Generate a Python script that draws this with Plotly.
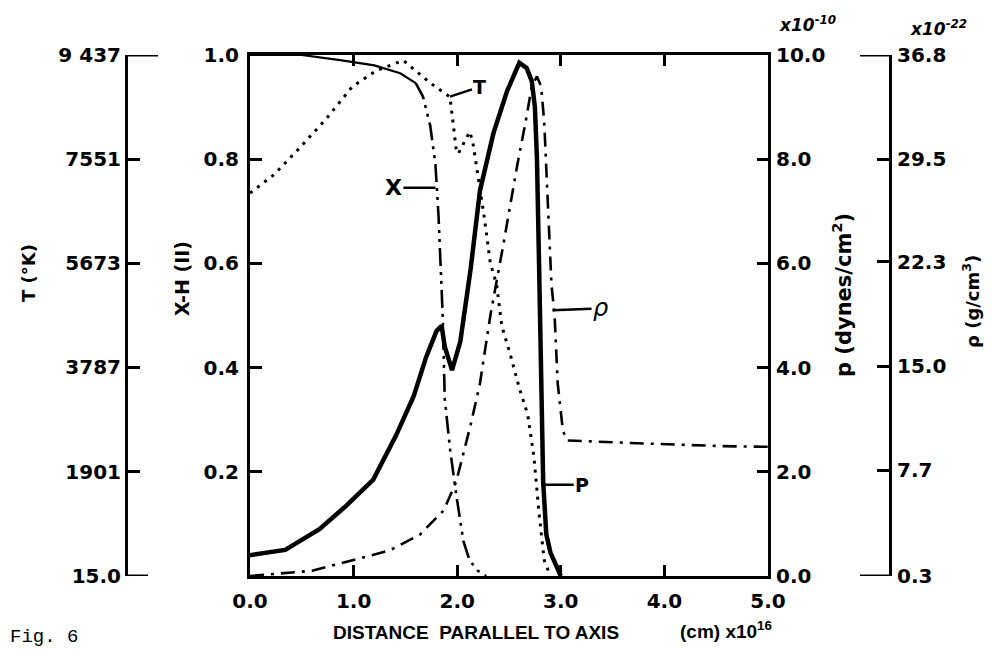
import plotly.graph_objects as go

# ---------------- data (distance in units of 1e16 cm) ----------------
# Ionization fraction X-H (0..1)
x_X = [0.0, 0.5, 0.87, 1.2, 1.45, 1.6, 1.67, 1.74, 1.79, 1.82, 1.84, 1.86, 1.88,
       1.93, 1.99, 2.06, 2.12, 2.2, 2.28]
y_X = [1.0, 1.0, 0.99, 0.98, 0.965, 0.946, 0.92, 0.864, 0.79, 0.69, 0.60, 0.50, 0.34,
       0.245, 0.157, 0.067, 0.03, 0.01, 0.0]

# Temperature T (K)
x_T = [0.0, 0.23, 0.47, 0.73, 0.99, 1.22, 1.48, 1.74, 1.93, 1.96, 1.99, 2.01, 2.06,
       2.12, 2.15, 2.18, 2.21, 2.26, 2.32, 2.38, 2.43, 2.52, 2.60, 2.68, 2.74, 2.79,
       2.84, 2.9]
y_T = [6940, 7270, 7740, 8270, 8870, 9155, 9340, 8930, 8680, 8210, 7740, 7650, 7820,
       8050, 7870, 7510, 7150, 6520, 5670, 5290, 4540, 3970, 3410, 2940, 2180, 1150,
       300, 15]

# Pressure p (x1e-10 dynes/cm^2)
x_p = [0.0, 0.34, 0.67, 0.93, 1.19, 1.41, 1.58, 1.70, 1.80, 1.85, 1.88, 1.95, 2.03,
       2.13, 2.22, 2.35, 2.48, 2.60, 2.67, 2.72, 2.75, 2.77, 2.79, 2.81, 2.83, 2.86,
       2.9, 3.0]
y_p = [0.4, 0.5, 0.9, 1.35, 1.85, 2.7, 3.45, 4.2, 4.7, 4.8, 4.4, 3.95, 4.5,
       5.9, 7.4, 8.5, 9.3, 9.85, 9.75, 9.5, 9.0, 8.0, 6.0, 4.0, 1.8, 0.8,
       0.45, 0.0]

# Density rho (x1e-22 g/cm^3)
x_rho = [0.0, 0.6, 0.99, 1.35, 1.64, 1.87, 1.99, 2.13, 2.22, 2.32, 2.45, 2.58, 2.66,
         2.72, 2.77, 2.81, 2.84, 2.86, 2.89, 2.91, 2.94, 2.97, 3.02, 3.06, 3.74, 4.55, 5.0]
y_rho = [0.3, 0.67, 1.4, 2.1, 3.2, 4.9, 6.9, 10.9, 13.8, 18.55, 23.7, 29.1, 32.1,
         34.6, 35.3, 34.6, 32.1, 28.8, 24.4, 20.7, 18.55, 13.8, 10.5, 9.8, 9.6, 9.4, 9.35]

# tick labels
x_ticks = [0, 1, 2, 3, 4, 5]
x_ticktext = ["0.0", "1.0", "2.0", "3.0", "4.0", "5.0"]
X_ticks = [0.2, 0.4, 0.6, 0.8, 1.0]
X_ticktext = ["0.2", "0.4", "0.6", "0.8", "1.0"]
T_ticks = [15, 1901, 3787, 5673, 7551, 9437]
T_ticktext = ["15.0", "1901", "3787", "5673", "7551", "9 437"]
p_ticks = [0, 2, 4, 6, 8, 10]
p_ticktext = ["0.0", "2.0", "4.0", "6.0", "8.0", "10.0"]
rho_ticks = [0.3, 7.7, 15.0, 22.3, 29.5, 36.8]
rho_ticktext = ["0.3", "7.7", "15.0", "22.3", "29.5", "36.8"]

# ---------------- figure ----------------
OFF = 8                      # page body margin of the browser
W, H = 992 - OFF, 666 - OFF
ML, MR, MT, MB = 30, 30, 30, 30
PW, PH = W - ML - MR, H - MT - MB


def fx(px):
    return (px - OFF - ML) / PW


def fy(py):
    return 1 - (py - OFF - MT) / PH


BLK = "black"
tickfont = dict(family="DejaVu Sans", size=20, color=BLK, weight="bold")

fig = go.Figure()

# X: solid upper part, dash-dot-dot lower part
fig.add_trace(go.Scatter(x=x_X[:6], y=y_X[:6], mode="lines", yaxis="y",
                         line=dict(color=BLK, width=2.2), showlegend=False))
fig.add_trace(go.Scatter(x=x_X[5:], y=y_X[5:], mode="lines", yaxis="y",
                         line=dict(color=BLK, width=2.6,
                                   dash="18px,6px,3px,6px,3px,6px"),
                         showlegend=False))
# T: dotted
fig.add_trace(go.Scatter(x=x_T, y=y_T, mode="lines", yaxis="y2",
                         line=dict(color=BLK, width=3, dash="3px,6px"),
                         showlegend=False))
# p: thick solid
fig.add_trace(go.Scatter(x=x_p, y=y_p, mode="lines", yaxis="y3",
                         line=dict(color=BLK, width=4.5), showlegend=False))
# rho: dash-dot
fig.add_trace(go.Scatter(x=x_rho, y=y_rho, mode="lines", yaxis="y4",
                         line=dict(color=BLK, width=2.6, dash="14px,7px,3px,7px"),
                         showlegend=False))

ax_common = dict(showgrid=False, zeroline=False, showline=True, linecolor=BLK,
                 linewidth=3, ticks="inside", tickwidth=2.5, tickcolor=BLK,
                 tickfont=tickfont, automargin=False)

fig.update_layout(
    width=W, height=H, autosize=False,
    margin=dict(l=ML, r=MR, t=MT, b=MB, pad=0, autoexpand=False),
    paper_bgcolor="white", plot_bgcolor="white",
    xaxis=dict(domain=[fx(250), fx(768)], range=[0, 5], mirror="ticks", ticklen=11,
               tickvals=x_ticks, ticktext=x_ticktext, ticklabelstandoff=5, **ax_common),
    yaxis=dict(domain=[fy(576), fy(55)], range=[0, 1], ticklen=12,
               tickvals=X_ticks, ticktext=X_ticktext, ticklabelstandoff=4, **ax_common),
    yaxis2=dict(overlaying="y", anchor="free", position=fx(126), side="left",
                range=[15, 9437], ticklen=12, tickvals=T_ticks, ticktext=T_ticktext,
                ticklabelstandoff=0, **ax_common),
    yaxis3=dict(overlaying="y", anchor="x", side="right", range=[0, 10], ticklen=11,
                tickvals=p_ticks, ticktext=p_ticktext, ticklabelstandoff=1, **ax_common),
    yaxis4=dict(overlaying="y", anchor="free", position=fx(890), side="right",
                range=[0.3, 36.8], ticklen=12, tickvals=rho_ticks, ticktext=rho_ticktext,
                ticklabelstandoff=1, **ax_common),
)

# long bracket ends on the T and rho axes
for yref, yv, xa, xb in [("y2", T_ticks[-1], 126, 158), ("y2", T_ticks[0], 126, 148),
                         ("y4", rho_ticks[-1], 860, 890), ("y4", rho_ticks[0], 860, 890)]:
    fig.add_shape(type="line", xref="paper", yref=yref, x0=fx(xa), x1=fx(xb),
                  y0=yv, y1=yv, line=dict(color=BLK, width=3))


def note(text, px, py, font, angle=0):
    fig.add_annotation(text=text, xref="paper", yref="paper", x=fx(px), y=fy(py),
                       xanchor="center", yanchor="middle", textangle=angle,
                       showarrow=False, font=font)


def lab(size):
    return dict(family="DejaVu Sans", size=size, color=BLK, weight="bold")


note("T (°K)", 28, 273, lab(18), -90)
note("X-H (II)", 182, 279, lab(19), -90)
note("p (dynes/cm<sup>2</sup>)", 842, 295, lab(21), -90)
note("ρ (g/cm<sup>3</sup>)", 971, 302, lab(18), -90)

expf = dict(family="DejaVu Sans", size=17, color=BLK, weight="bold", style="italic")
note("x10<sup>-10</sup>", 807, 24, expf)
note("x10<sup>-22</sup>", 938, 28, expf)

note("DISTANCE  PARALLEL TO AXIS", 476, 632,
     dict(family="Liberation Sans", size=19, color=BLK, weight="bold"))
note("(cm) x10<sup>16</sup>", 726, 630,
     dict(family="Liberation Sans", size=19, color=BLK, weight="bold"))
note("Fig. 6", 44, 637, dict(family="Liberation Mono", size=19, color=BLK))

# curve labels with leader lines
curvef = dict(family="DejaVu Sans", size=19, color=BLK, weight="bold")


def label(text, x, y, ax, ay, font):
    fig.add_annotation(text=text, x=x, y=y, xref="x", yref="y", ax=ax, ay=ay,
                       showarrow=True, arrowhead=0, arrowwidth=2.5, arrowcolor=BLK,
                       font=font)


label("X", 1.79, 0.745, -42, 0,
      dict(family="DejaVu Sans", size=22, color=BLK, weight="bold"))
label("T", 1.93, 0.92, 30, -10, curvef)
label("P", 2.84, 0.175, 38, 0, curvef)
label("ρ", 2.92, 0.51, 48, -2,
      dict(family="DejaVu Sans", size=24, color=BLK, style="italic"))

fig.write_html("out.html")
